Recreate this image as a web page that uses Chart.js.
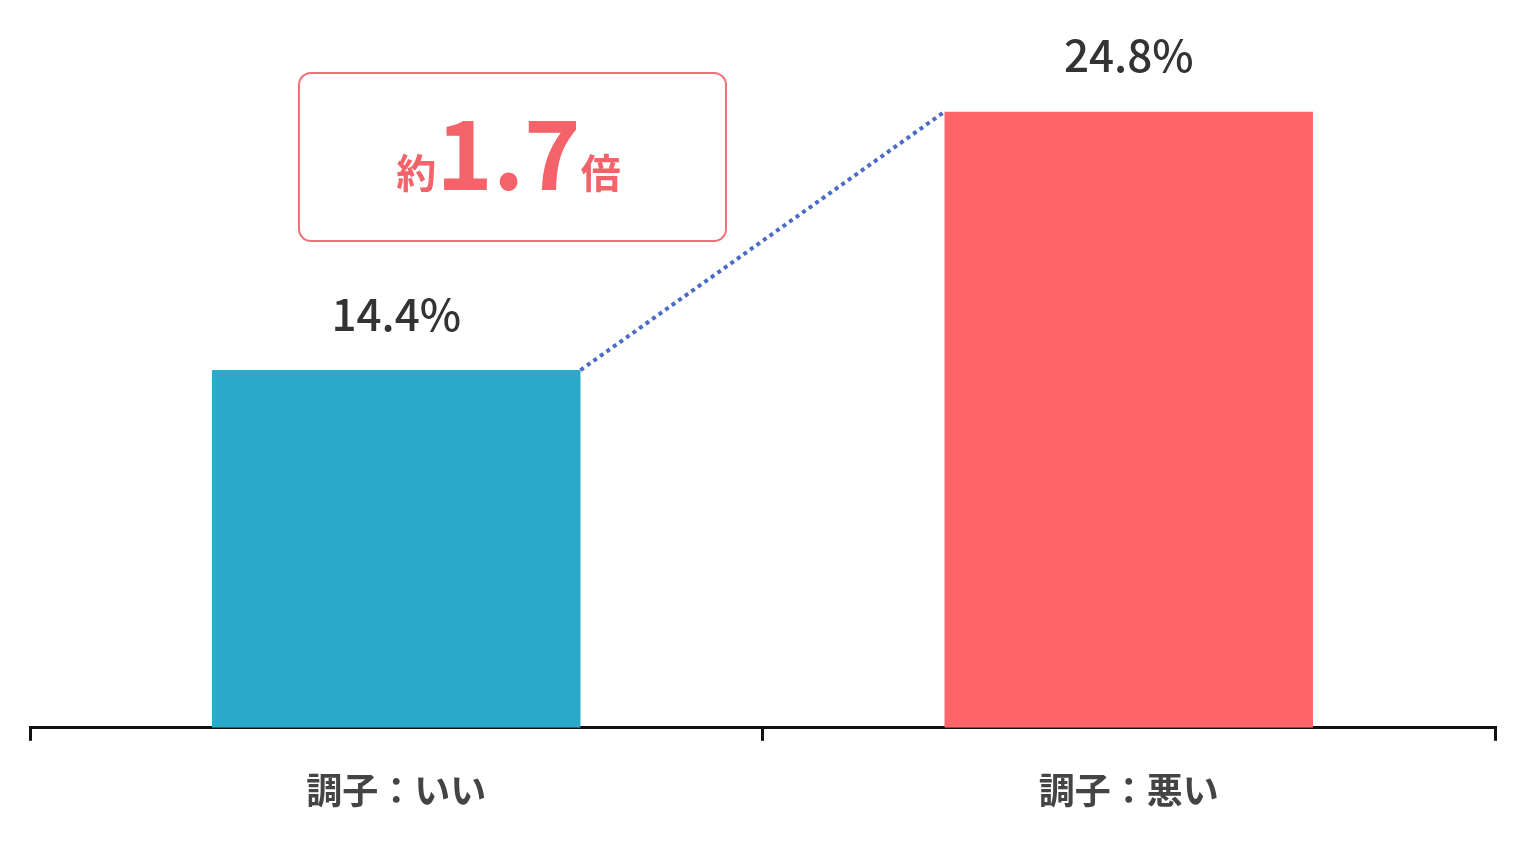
<!DOCTYPE html>
<html><head><meta charset="utf-8">
<script src="https://cdn.jsdelivr.net/npm/chart.js@4"></script>
<style>html,body{margin:0;padding:0;background:#fff}#w{width:1523px;height:848px}</style>
</head><body><div id="w"><canvas id="c"></canvas></div>
<script>
const categories = ["調子：いい", "調子：悪い"];
const values = [14.4, 24.8];
const barColors = ["#2ba9cb", "#ff6469"];
const ratioPrefix = "約", ratioValue = "1.7", ratioSuffix = "倍";
const FONT = '"Noto Sans CJK JP","Noto Sans",sans-serif';

const overlay = {
  id: 'overlay',
  afterDatasetsDraw(chart) {
    const ctx = chart.ctx;
    const bars = chart.getDatasetMeta(0).data;
    ctx.save();
    // value labels
    ctx.fillStyle = '#333';
    ctx.font = '500 44px ' + FONT;
    ctx.textAlign = 'center'; ctx.textBaseline = 'middle';
    bars.forEach((b, i) => ctx.fillText(values[i].toFixed(1) + '%', b.x, b.y - 56));
    // dotted connector
    const b0 = bars[0], b1 = bars[1];
    ctx.strokeStyle = '#4a6cc4'; ctx.lineWidth = 4; ctx.setLineDash([4, 4]);
    ctx.beginPath();
    ctx.moveTo(b0.x + b0.width / 2, b0.y);
    ctx.lineTo(b1.x - b1.width / 2, b1.y);
    ctx.stroke();
    ctx.setLineDash([]);
    // ratio box
    const bx = 299, by = 73, bw = 427, bh = 168;
    ctx.strokeStyle = '#f07078'; ctx.lineWidth = 2;
    ctx.beginPath(); ctx.roundRect(bx, by, bw, bh, 12); ctx.stroke();
    ctx.fillStyle = '#f4626a';
    ctx.textBaseline = 'alphabetic'; ctx.textAlign = 'left';
    const small = 'bold 40px ' + FONT, big = 'bold 96px ' + FONT;
    ctx.font = small; const w1 = ctx.measureText(ratioPrefix).width, w3 = ctx.measureText(ratioSuffix).width;
    ctx.font = big; const w2 = ctx.measureText(ratioValue).width;
    let x = bx + bw / 2 - (w1 + w2 + w3) / 2 - 4;
    const base = 188;
    ctx.font = small; ctx.fillText(ratioPrefix, x, base); x += w1;
    ctx.font = big; ctx.fillText(ratioValue, x, base + 2); x += w2;
    ctx.font = small; ctx.fillText(ratioSuffix, x, base);
    ctx.restore();
  }
};

new Chart(document.getElementById('c'), {
  type: 'bar',
  data: { labels: categories, datasets: [{ data: values, backgroundColor: barColors, barPercentage: 0.503, categoryPercentage: 1 }] },
  options: {
    responsive: true, maintainAspectRatio: false, animation: false,
    layout: { padding: { left: 30, right: 28, top: 0, bottom: 8 } },
    plugins: { legend: { display: false }, tooltip: { enabled: false } },
    scales: {
      y: { display: false, min: 0, max: 29.3 },
      x: {
        grid: { display: true, drawOnChartArea: false, drawTicks: true, tickLength: 13, color: '#111', lineWidth: 3, offset: true },
        border: { display: true, color: '#111', width: 3 },
        ticks: { color: '#444', padding: 28, font: { family: FONT, size: 36, weight: 'bold' } }
      }
    }
  },
  plugins: [overlay]
});
</script></body></html>
